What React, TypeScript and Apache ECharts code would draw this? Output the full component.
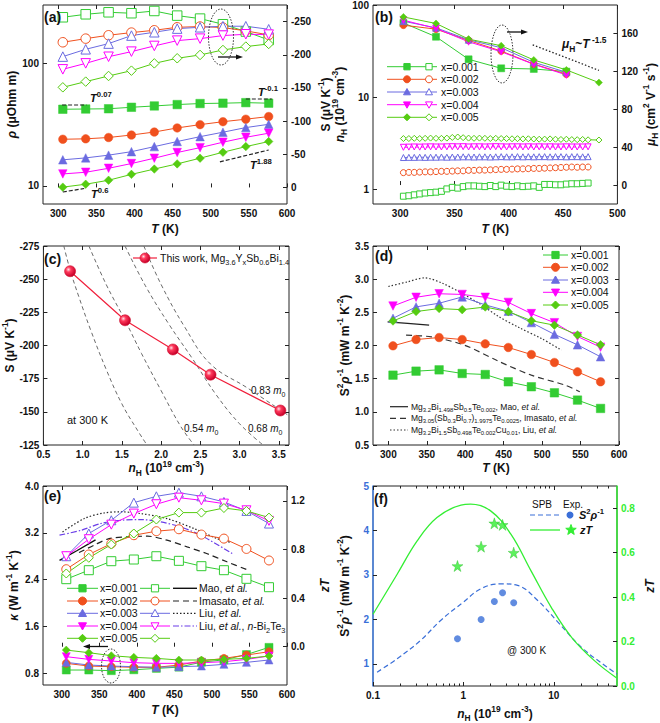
import React, { useEffect, useRef } from 'react';
import * as echarts from 'echarts';

// ---------------- data ----------------
const tempK = [306, 336, 366, 396, 426, 456, 486, 516, 546, 576];

// (a) resistivity (left, log) and Seebeck (right)
const rho001 = [42.2, 42.4, 42.6, 43.8, 44.9, 46.1, 47.0, 47.3, 47.8, 47.3];
const rho002 = [24.0, 24.2, 24.8, 26.0, 27.5, 29.7, 31.6, 33.4, 35.0, 36.8];
const rho003 = [16.3, 16.9, 17.8, 19.0, 20.9, 23.0, 25.2, 27.4, 29.9, 31.8];
const rho004 = [12.5, 12.9, 13.9, 15.2, 16.8, 18.7, 20.5, 22.7, 24.9, 26.9];
const rho005 = [9.75, 10.3, 11.1, 12.4, 13.7, 15.1, 16.8, 18.8, 20.9, 23.0];
const seeb001 = [-256.5, -261, -264, -262.6, -266, -259, -254.5, -246, -235, -222.3];
const seeb002 = [-218.8, -224.3, -229.4, -233.4, -236.9, -241.4, -242.5, -241, -236, -229.9];
const seeb003 = [-197.2, -208.2, -216.8, -228.9, -233.9, -239.4, -241.4, -243, -243, -238.4];
const seeb004 = [-178, -187, -197, -204.7, -213.3, -221.3, -224.3, -228.9, -230.9, -230.4];
const seeb005 = [-150.9, -159.5, -168, -176, -187, -194.7, -199.7, -207.2, -212.3, -216.3];
const guideT007 = [305, 337];
const guideR007 = [45.7, 45.7];
const guideTm01 = [546, 580];
const guideRm01 = [51.2, 51.2];
const guideT188 = [512, 576];
const guideR188 = [15.7, 19.6];
const guideT06 = [306, 334];
const guideR06 = [8.9, 9.5];

// (b) Hall mobility (right) and carrier concentration (left, log)
const tMu = [303, 333, 363, 393, 423, 453];
const tMu5 = [303, 333, 363, 393, 423, 453, 483];
const mu001 = [171, 156.5, 132.7, 123.2, 122.5, 119.7];
const mu002 = [168.7, 164.5, 152.6, 141.4, 127.7, 117.0];
const mu003 = [172.9, 165.9, 153.3, 144.9, 129.5, 119.0];
const mu004 = [174.0, 165.3, 151.2, 140.7, 127.4, 116.2];
const mu005 = [177.4, 170.5, 154.0, 147.0, 132.0, 121.5, 108.1];
const muGuideT = [422, 483];
const muGuide = [148, 121];
const tN = [303, 308, 313, 318, 323, 328, 333, 338, 343, 348, 353, 358, 363, 368, 373, 378, 383, 388, 393, 398, 403, 408, 413, 418, 423, 428, 433, 438, 443, 448, 453, 458, 463, 468, 473];
const tN5 = [303, 308, 313, 318, 323, 328, 333, 338, 343, 348, 353, 358, 363, 368, 373, 378, 383, 388, 393, 398, 403, 408, 413, 418, 423, 428, 433, 438, 443, 448, 453, 458, 463, 468, 473, 483];
const nH001 = [0.85, 0.86, 0.88, 0.9, 0.92, 0.93, 0.94, 0.96, 1.02, 1.06, 1.04, 1.08, 1.1, 1.1, 1.09, 1.08, 1.11, 1.08, 1.12, 1.09, 1.08, 1.1, 1.08, 1.09, 1.1, 1.06, 1.14, 1.14, 1.13, 1.13, 1.15, 1.16, 1.16, 1.17, 1.18];
const nH002 = [1.53, 1.54, 1.54, 1.55, 1.56, 1.56, 1.57, 1.58, 1.58, 1.59, 1.6, 1.6, 1.62, 1.62, 1.63, 1.63, 1.64, 1.65, 1.66, 1.66, 1.67, 1.68, 1.68, 1.69, 1.7, 1.7, 1.71, 1.72, 1.73, 1.74, 1.75, 1.76, 1.75, 1.76, 1.76];
const nH003 = [2.23, 2.24, 2.24, 2.25, 2.24, 2.25, 2.25, 2.26, 2.25, 2.26, 2.26, 2.27, 2.27, 2.26, 2.27, 2.27, 2.26, 2.27, 2.28, 2.27, 2.27, 2.28, 2.27, 2.28, 2.27, 2.28, 2.28, 2.27, 2.28, 2.28, 2.27, 2.28, 2.28, 2.27, 2.28];
const nH004 = [2.88, 2.89, 2.9, 2.89, 2.9, 2.91, 2.9, 2.9, 2.91, 2.92, 2.91, 2.92, 2.9, 2.91, 2.91, 2.9, 2.91, 2.92, 2.91, 2.9, 2.91, 2.91, 2.9, 2.91, 2.9, 2.91, 2.9, 2.91, 2.9, 2.9, 2.91, 2.9, 2.9, 2.9, 2.91];
const nH005 = [3.58, 3.58, 3.6, 3.58, 3.6, 3.62, 3.6, 3.6, 3.62, 3.68, 3.72, 3.66, 3.62, 3.6, 3.62, 3.6, 3.58, 3.6, 3.58, 3.58, 3.56, 3.57, 3.55, 3.56, 3.54, 3.52, 3.53, 3.55, 3.52, 3.5, 3.52, 3.49, 3.48, 3.5, 3.47, 3.45];

// (c) Pisarenko plot at 300 K
const nHc = [0.84, 1.54, 2.15, 2.63, 3.52];
const seebC = [-256, -219, -197, -178, -151];
const spbNL = [0.76, 0.84, 0.95, 1.1, 1.3, 1.5, 1.7, 1.82];
const spbSL = [-275, -257, -237, -212, -182, -156, -136, -125];
const spbN054 = [1.08, 1.3, 1.54, 1.75, 2.0, 2.25, 2.42];
const spbS054 = [-275, -246, -219, -194, -166, -139, -125];
const spbN068 = [1.54, 1.8, 2.1, 2.4, 2.7, 3.0, 3.3];
const spbS068 = [-275, -245, -216, -190, -163, -141, -125];
const spbN083 = [1.78, 2.0, 2.3, 2.63, 3.1, 3.63];
const spbS083 = [-275, -246, -214, -186, -168, -147];

// (d) power factor
const pf001 = [1.553, 1.613, 1.633, 1.578, 1.563, 1.453, 1.378, 1.287, 1.177, 1.051];
const pf002 = [1.995, 2.09, 2.12, 2.09, 2.025, 1.97, 1.864, 1.744, 1.603, 1.453];
const pf003 = [2.41, 2.582, 2.637, 2.732, 2.612, 2.517, 2.346, 2.168, 2.01, 1.83];
const pf004 = [2.595, 2.727, 2.78, 2.77, 2.727, 2.65, 2.481, 2.344, 2.136, 1.975];
const pf005 = [2.369, 2.512, 2.557, 2.54, 2.58, 2.51, 2.374, 2.306, 2.16, 2.01];
const maoT = [299, 325, 353];
const maoPF = [2.356, 2.335, 2.306];
const imaT = [323, 356, 399, 443, 486, 530, 549];
const imaPF = [2.155, 2.13, 2.005, 1.764, 1.553, 1.402, 1.302];
const liuT = [300, 325, 347, 370, 395, 420, 443, 470, 500, 525];
const liuPF = [2.89, 2.96, 3.02, 2.94, 2.79, 2.62, 2.44, 2.27, 2.1, 1.93];

// (e) thermal conductivity (left) and zT (right)
const kap001 = [0.856, 0.856, 0.845, 0.86, 0.884, 0.905, 0.99, 1.03, 1.12, 1.243];
const kap002 = [0.97, 0.924, 0.913, 0.902, 0.902, 0.941, 1.01, 1.055, 1.112, 1.169];
const kap003 = [0.987, 0.941, 0.924, 0.913, 0.902, 0.913, 0.924, 0.953, 0.987, 1.027];
const kap004 = [1.084, 1.038, 1.01, 0.981, 0.97, 0.97, 0.981, 0.998, 1.038, 1.095];
const kap005 = [1.197, 1.152, 1.101, 1.072, 1.055, 1.027, 1.027, 1.038, 1.055, 1.095];
const zt001 = [0.556, 0.63, 0.704, 0.718, 0.745, 0.707, 0.663, 0.63, 0.559, 0.49];
const zt002 = [0.638, 0.759, 0.849, 0.918, 0.951, 0.967, 0.923, 0.89, 0.805, 0.71];
const zt003 = [0.745, 0.932, 1.041, 1.186, 1.238, 1.268, 1.238, 1.192, 1.118, 1.014];
const zt004 = [0.745, 0.885, 1.005, 1.096, 1.173, 1.227, 1.205, 1.178, 1.123, 1.036];
const zt005 = [0.603, 0.732, 0.841, 0.932, 1.047, 1.104, 1.104, 1.142, 1.118, 1.063];
const maoZtT = [297, 320, 345];
const maoZt = [0.71, 0.79, 0.88];
const imaZtT = [323, 343, 363, 387, 414, 440, 467, 493, 520, 546];
const imaZt = [0.775, 0.836, 0.89, 0.904, 0.91, 0.877, 0.822, 0.767, 0.699, 0.636];
const liuZtT = [301, 330, 356, 379, 405, 440, 476, 507, 524];
const liuZt = [0.945, 1.055, 1.101, 1.11, 1.096, 1.055, 0.973, 0.89, 0.86];
const liuBtT = [297, 326, 352, 379, 405, 432, 458, 485, 527];
const liuBtZt = [0.918, 0.959, 1.014, 1.041, 1.047, 1.027, 0.986, 0.918, 0.767];

// (f) SPB model vs experiment at 300 K
const nHf = [0.86, 1.57, 2.2, 2.71, 3.6];
const pfExp = [1.563, 1.998, 2.403, 2.598, 2.373];
const ztExp = [0.54, 0.627, 0.732, 0.725, 0.6];
const spbPfN = [0.111, 0.185, 0.336, 0.56, 1.0, 1.56, 2.6, 3.98, 6.64, 11.1, 20.1, 36.6, 50];
const spbPf = [0.812, 1.113, 1.525, 1.975, 2.388, 2.688, 2.8, 2.763, 2.425, 1.938, 1.375, 0.962, 0.77];
const spbZtN = [0.1, 0.185, 0.308, 0.51, 0.94, 1.2, 2.0, 3.35, 5.6, 9.4, 15.8, 28.3, 50];
const spbZt = [0.323, 0.503, 0.653, 0.758, 0.814, 0.818, 0.788, 0.683, 0.518, 0.353, 0.218, 0.113, 0.035];

const xLabels = ['x=0.001', 'x=0.002', 'x=0.003', 'x=0.004', 'x=0.005'];

// ---------------- styling ----------------
const FONT = '"Liberation Sans", Arial, Helvetica, sans-serif';
const COLORS = ['#33cc33', '#f0501e', '#6b6be0', '#ff00ff', '#55cc11'];
const KINDS = ['sq', 'ci', 'tu', 'td', 'di'];
const STAR = 'path://M50,0L61.8,35.1L98.5,35.1L68.8,56.8L80.2,91.6L50,70.1L19.8,91.6L31.2,56.8L1.5,35.1L38.2,35.1Z';

function rich(size: number, weight: any = 'normal', color = '#111') {
  const s = Math.round(size * 0.7 * 10) / 10;
  const lh = Math.round(size * 1.45);
  const b: any = { fontFamily: FONT, fontWeight: weight, color, fill: color, lineHeight: lh };
  return {
    n: { ...b, fontSize: size },
    i: { ...b, fontSize: size, fontStyle: 'italic' },
    sup: { ...b, fontSize: s, verticalAlign: 'top' },
    sub: { ...b, fontSize: s, verticalAlign: 'bottom' },
  };
}

function esym(kind: string) {
  const m: any = { sq: 'rect', ci: 'circle', tu: 'triangle', td: 'triangle', di: 'diamond' };
  return { symbol: m[kind], rotate: kind === 'td' ? 180 : 0 };
}

function buildOption() {
  const grids: any[] = [];
  const xAxes: any[] = [];
  const yAxes: any[] = [];
  const series: any[] = [];
  const els: any[] = [];

  const tick = (vals: any, len = 4) => ({ show: true, inside: true, length: len, lineStyle: { color: '#222', width: 1 }, customValues: vals });
  const lab = (vals: any, fmt?: any, color = '#111') => {
    const o: any = { show: true, fontSize: 10, fontWeight: 'bold', fontFamily: FONT, color, margin: 4, customValues: vals };
    if (fmt) o.formatter = fmt;
    return o;
  };
  const nameStyle = (color = '#111') => ({ fontFamily: FONT, fontSize: 12, fontWeight: 'bold', color, rich: rich(12, 'bold', color) });

  function addGrid(left: number, top: number, width: number, height: number) {
    grids.push({ left, top, width, height, show: true, borderColor: '#222', borderWidth: 1 });
    return grids.length - 1;
  }
  function addX(g: number, o: any) {
    const c: any = { gridIndex: g, type: o.log ? 'log' : 'value', min: o.min, max: o.max, splitLine: { show: false }, axisLine: { show: false } };
    if (o.log) c.logBase = 10;
    xAxes.push({ ...c, position: 'bottom', axisTick: tick(o.ticks), axisLabel: lab(o.ticks, o.fmt), name: o.name, nameLocation: 'middle', nameGap: o.gap, nameTextStyle: nameStyle() });
    const idx = xAxes.length - 1;
    xAxes.push({ ...c, position: 'top', axisTick: tick(o.ticks), axisLabel: { show: false } });
    if (o.minor) {
      xAxes.push({ ...c, position: 'bottom', axisTick: tick(o.minor, 2.5), axisLabel: { show: false } });
      xAxes.push({ ...c, position: 'top', axisTick: tick(o.minor, 2.5), axisLabel: { show: false } });
    }
    return idx;
  }
  function addY(g: number, o: any) {
    const c: any = { gridIndex: g, type: o.log ? 'log' : 'value', min: o.min, max: o.max, inverse: !!o.inverse, splitLine: { show: false } };
    if (o.log) c.logBase = 10;
    const col = o.color || '#111';
    yAxes.push({
      ...c, position: o.pos || 'left',
      axisLine: o.lineColor ? { show: true, lineStyle: { color: o.lineColor, width: 1.5 } } : { show: false },
      axisTick: tick(o.ticks), axisLabel: lab(o.ticks, o.fmt, col),
      name: o.name, nameLocation: 'middle', nameGap: o.gap, nameTextStyle: nameStyle(),
    });
    const idx = yAxes.length - 1;
    if (o.mirror) {
      yAxes.push({ ...c, position: 'right', axisLine: { show: false }, axisTick: tick(o.ticks), axisLabel: { show: false } });
    }
    return idx;
  }
  function addLine(xi: number, yi: number, xs: number[], ys: number[], o: any) {
    series.push({
      type: 'line', xAxisIndex: xi, yAxisIndex: yi,
      data: xs.map((x, i) => [x, ys[i]]),
      symbol: o.symbol || 'none', symbolSize: o.size || 8, symbolRotate: o.rotate || 0,
      smooth: o.smooth || false, silent: true,
      lineStyle: { color: o.lineColor || o.color, width: o.width || 1, type: o.dash || 'solid' },
      itemStyle: { color: o.fill || o.color, borderColor: o.color, borderWidth: o.bw == null ? 1 : o.bw },
      z: o.z || 2,
    });
  }
  function addPts(xi: number, yi: number, xs: number[], ys: number[], kind: number, filled: boolean, size: number, lineW = 1) {
    const s = esym(KINDS[kind]);
    addLine(xi, yi, xs, ys, {
      color: COLORS[kind], fill: filled ? COLORS[kind] : '#ffffff', symbol: s.symbol, rotate: s.rotate,
      size, bw: filled ? 0.5 : 1, width: lineW, z: filled ? 3 : 4,
    });
  }

  // ---- graphic helpers ----
  const gLine = (x1: number, y1: number, x2: number, y2: number, color: string, width = 1, dash?: number[]) =>
    ({ type: 'line', z: 50, shape: { x1, y1, x2, y2 }, style: { stroke: color, lineWidth: width, lineDash: dash } });
  const gText = (x: number, y: number, text: string, size: number, weight: any = 'normal', color = '#111') =>
    ({ type: 'text', z: 50, x, y, style: { text, fontSize: size, fontFamily: FONT, fontWeight: weight, fill: color, align: 'left', verticalAlign: 'middle', rich: rich(size, weight, color) } });
  const starPts = (cx: number, cy: number, R: number) => {
    const pts: number[][] = [];
    for (let k = 0; k < 10; k++) {
      const r = k % 2 === 0 ? R : R * 0.42;
      const a = -Math.PI / 2 + (k * Math.PI) / 5;
      pts.push([cx + r * Math.cos(a), cy + r * Math.sin(a)]);
    }
    return pts;
  };
  const gSym = (kind: string, filled: boolean, color: string, cx: number, cy: number, s: number) => {
    const style = { fill: filled ? color : '#fff', stroke: color, lineWidth: 1 };
    const h = s / 2;
    if (kind === 'sq') return { type: 'rect', z: 51, shape: { x: cx - h * 0.9, y: cy - h * 0.9, width: s * 0.9, height: s * 0.9 }, style };
    if (kind === 'ci') return { type: 'circle', z: 51, shape: { cx, cy, r: h }, style };
    if (kind === 'tu') return { type: 'polygon', z: 51, shape: { points: [[cx, cy - h], [cx + h, cy + h * 0.8], [cx - h, cy + h * 0.8]] }, style };
    if (kind === 'td') return { type: 'polygon', z: 51, shape: { points: [[cx, cy + h], [cx + h, cy - h * 0.8], [cx - h, cy - h * 0.8]] }, style };
    if (kind === 'st') return { type: 'polygon', z: 51, shape: { points: starPts(cx, cy, h) }, style };
    return { type: 'polygon', z: 51, shape: { points: [[cx, cy - h], [cx + h, cy], [cx, cy + h], [cx - h, cy]] }, style };
  };
  const gEllipse = (cx: number, cy: number, rx: number, ry: number) =>
    ({ type: 'ellipse', z: 50, shape: { cx, cy, rx, ry }, style: { fill: 'transparent', stroke: '#333', lineWidth: 1, lineDash: [1.5, 1.5] } });
  const gArrow = (x1: number, x2: number, y: number) => {
    const dir = x2 > x1 ? 1 : -1;
    return [
      gLine(x1, y, x2 - dir * 5, y, '#111', 1.3),
      { type: 'polygon', z: 50, shape: { points: [[x2, y], [x2 - dir * 7, y - 2.6], [x2 - dir * 7, y + 2.6]] }, style: { fill: '#111' } },
    ];
  };

  const tTicks = [300, 350, 400, 450, 500, 550, 600];
  const TK = '{i|T}{n| (K)}';
  const NH = '{i|n}{sub|H}{n| (10}{sup|19}{n| cm}{sup|-3}{n|)}';
  const PF = '{n|S}{sup|2}{i|ρ}{sup|-1}{n| (mW m}{sup|-1}{n| K}{sup|-2}{n|)}';
  const SEEB = '{n|S (μV K}{sup|-1}{n|)}';

  // ================= (a) =================
  const gA = addGrid(43, 5, 244, 199);
  const xA = addX(gA, { min: 280, max: 600, ticks: tTicks, name: TK, gap: 16 });
  const yAL = addY(gA, { log: true, min: 7.1, max: 300, ticks: [10, 100], name: '{i|ρ}{n| (μOhm m)}', gap: 22 });
  const yAR = addY(gA, { pos: 'right', inverse: true, min: -275, max: 25, ticks: [-250, -200, -150, -100, -50, 0], name: SEEB, gap: 30 });
  const rhos = [rho001, rho002, rho003, rho004, rho005];
  const seebs = [seeb001, seeb002, seeb003, seeb004, seeb005];
  for (let k = 0; k < 5; k++) {
    addPts(xA, yAL, tempK, rhos[k], k, true, 8.5);
    addPts(xA, yAR, tempK, seebs[k], k, false, 9.5);
  }
  const gd = { color: '#222', dash: [4, 2], width: 1.2, z: 5 };
  addLine(xA, yAL, guideT007, guideR007, gd);
  addLine(xA, yAL, guideTm01, guideRm01, gd);
  addLine(xA, yAL, guideT188, guideR188, gd);
  addLine(xA, yAL, guideT06, guideR06, gd);
  els.push(gText(44, 17, '{n|(a)}', 14, 'bold'));
  els.push(gText(90, 98, '{i|T}{sup|0.07}', 11, 'bold'));
  els.push(gText(258, 92, '{i|T}{sup|-0.1}', 11, 'bold'));
  els.push(gText(250, 165, '{i|T}{sup|1.88}', 11, 'bold'));
  els.push(gText(91, 194, '{i|T}{sup|0.6}', 11, 'bold'));
  els.push(gEllipse(221, 37, 12.5, 28));
  els.push(...gArrow(218, 243, 57));

  // ================= (b) =================
  const gB = addGrid(373, 5, 246, 199);
  const xB = addX(gB, { min: 275, max: 500, ticks: [300, 350, 400, 450, 500], name: TK, gap: 16 });
  const yBL = addY(gB, { log: true, min: 0.7, max: 100, ticks: [1, 10, 100], name: NH, gap: 20 });
  const yBR = addY(gB, { pos: 'right', min: -20, max: 190, ticks: [0, 40, 80, 120, 160], name: '{i|μ}{sub|H}{n| (cm}{sup|2}{n| V}{sup|-1}{n| s}{sup|-1}{n|)}', gap: 23 });
  const mus = [mu001, mu002, mu003, mu004, mu005];
  const nHs = [nH001, nH002, nH003, nH004, nH005];
  for (let k = 0; k < 5; k++) {
    addPts(xB, yBL, k === 4 ? tN5 : tN, nHs[k], k, false, 6);
  }
  for (let k = 0; k < 5; k++) {
    addPts(xB, yBR, k === 4 ? tMu5 : tMu, mus[k], k, true, 7);
  }
  addLine(xB, yBR, muGuideT, muGuide, { color: '#222', dash: [1.5, 2], width: 1.3, z: 5 });
  els.push(gText(375, 17, '{n|(b)}', 14, 'bold'));
  els.push(gText(562, 44, '{i|μ}{sub|H}{n|~}{i|T}{sup| -1.5}', 12, 'bold'));
  els.push(gEllipse(502, 54, 11, 29));
  els.push(...gArrow(507, 528, 32));
  const legBY = [66.7, 79.3, 92, 104.7, 117.3];
  for (let k = 0; k < 5; k++) {
    const y = legBY[k];
    els.push(gLine(387, y, 437, y, COLORS[k], 1));
    els.push(gSym(KINDS[k], true, COLORS[k], 407, y, 7));
    els.push(gSym(KINDS[k], false, COLORS[k], 429, y, 7));
    els.push(gText(441, y, '{n|' + xLabels[k] + '}', 10.5));
  }

  // ================= (c) =================
  const gC = addGrid(43, 246, 246, 199);
  const xC = addX(gC, { min: 0.5, max: 3.63, ticks: [0.5, 1.0, 1.5, 2.0, 2.5, 3.0, 3.5], fmt: (v: number) => v.toFixed(1), name: NH, gap: 14 });
  const yC = addY(gC, { inverse: true, min: -275, max: -125, ticks: [-275, -250, -225, -200, -175, -150, -125], name: SEEB, gap: 22, mirror: true });
  const dashGray = { color: '#6a6a6a', dash: [4, 3], width: 1, smooth: 0.4, z: 2 };
  addLine(xC, yC, spbNL, spbSL, dashGray);
  addLine(xC, yC, spbN054, spbS054, dashGray);
  addLine(xC, yC, spbN068, spbS068, dashGray);
  addLine(xC, yC, spbN083, spbS083, dashGray);
  const ball = new echarts.graphic.RadialGradient(0.35, 0.35, 0.65, [
    { offset: 0, color: '#ffe0e6' },
    { offset: 0.35, color: '#ff3a5c' },
    { offset: 1, color: '#c8002a' },
  ]);
  series.push({
    type: 'line', xAxisIndex: xC, yAxisIndex: yC, data: nHc.map((x, i) => [x, seebC[i]]),
    symbol: 'circle', symbolSize: 11, silent: true, z: 6,
    lineStyle: { color: '#f0203c', width: 1.2 },
    itemStyle: { color: ball, borderColor: '#d01030', borderWidth: 0.6 },
  });
  els.push(gText(44, 259, '{n|(c)}', 14, 'bold'));
  els.push(gLine(133, 258, 157, 258, '#f0203c', 1.2));
  els.push({ type: 'circle', z: 51, shape: { cx: 145, cy: 258, r: 5 }, style: { fill: ball, stroke: '#d01030', lineWidth: 0.6 } });
  els.push(gText(160, 258, '{n|This work, Mg}{sub|3.6}{n|Y}{sub|x}{n|Sb}{sub|0.6}{n|Bi}{sub|1.4}', 10.5));
  els.push(gText(67, 420, '{n|at 300 K}', 11));
  els.push(gText(251, 390, '{n|0.83 }{i|m}{sub|0}', 10));
  els.push(gText(248, 428, '{n|0.68 }{i|m}{sub|0}', 10));
  els.push(gText(184, 428, '{n|0.54 }{i|m}{sub|0}', 10));

  // ================= (d) =================
  const gD = addGrid(373, 246, 246, 199);
  const xD = addX(gD, { min: 280, max: 600, ticks: tTicks, name: TK, gap: 14 });
  const yD = addY(gD, { min: 0.5, max: 3.5, ticks: [0.5, 1.0, 1.5, 2.0, 2.5, 3.0, 3.5], fmt: (v: number) => v.toFixed(1), name: PF, gap: 20, mirror: true });
  addLine(xD, yD, maoT, maoPF, { color: '#222', width: 1.2, z: 2 });
  addLine(xD, yD, imaT, imaPF, { color: '#333', dash: [6, 4], width: 1.2, smooth: 0.3, z: 2 });
  addLine(xD, yD, liuT, liuPF, { color: '#333', dash: [1.5, 2], width: 1.2, smooth: 0.3, z: 2 });
  const pfs = [pf001, pf002, pf003, pf004, pf005];
  for (let k = 0; k < 5; k++) addPts(xD, yD, tempK, pfs[k], k, true, 8.5);
  els.push(gText(375, 256, '{n|(d)}', 14, 'bold'));
  const legDY = [255, 267.3, 280, 292.3, 305];
  for (let k = 0; k < 5; k++) {
    const y = legDY[k];
    els.push(gLine(543, y, 568, y, COLORS[k], 1));
    els.push(gSym(KINDS[k], true, COLORS[k], 555.5, y, 8));
    els.push(gText(571, y, '{n|' + xLabels[k] + '}', 10.5));
  }
  els.push(gLine(390, 406.7, 408, 406.7, '#222', 1.2));
  els.push(gLine(390, 418.3, 408, 418.3, '#333', 1.2, [6, 4]));
  els.push(gLine(390, 430, 408, 430, '#333', 1.2, [1.5, 2]));
  els.push(gText(411, 406.7, '{n|Mg}{sub|3.2}{n|Bi}{sub|1.498}{n|Sb}{sub|0.5}{n|Te}{sub|0.002}{n|, Mao, }{i|et al.}', 8.5));
  els.push(gText(411, 418.3, '{n|Mg}{sub|3.05}{n|(Sb}{sub|0.3}{n|Bi}{sub|0.7}{n|)}{sub|1.9975}{n|Te}{sub|0.0025}{n|, Imasato, }{i|et al.}', 8.5));
  els.push(gText(411, 430, '{n|Mg}{sub|3.2}{n|Bi}{sub|1.5}{n|Sb}{sub|0.498}{n|Te}{sub|0.002}{n|Cu}{sub|0.01}{n|, Liu, }{i|et al.}', 8.5));

  // ================= (e) =================
  const gE = addGrid(43, 486, 244, 199);
  const xE = addX(gE, { min: 275, max: 600, ticks: tTicks, name: TK, gap: 16 });
  const yEL = addY(gE, { min: 0.6, max: 4.0, ticks: [0.8, 1.6, 2.4, 3.2, 4.0], fmt: (v: number) => v.toFixed(1), name: '{i|κ}{n| (W m}{sup|-1}{n| K}{sup|-1}{n|)}', gap: 21 });
  const yER = addY(gE, { pos: 'right', min: -0.315, max: 1.323, ticks: [0, 0.4, 0.8, 1.2], fmt: (v: number) => v.toFixed(1), name: '{i|zT}', gap: 29 });
  const PURPLE = '#6a3de8';
  addLine(xE, yER, maoZtT, maoZt, { color: '#111', width: 1.4, z: 2 });
  addLine(xE, yER, imaZtT, imaZt, { color: '#222', dash: [6, 4], width: 1.2, smooth: 0.3, z: 2 });
  addLine(xE, yER, liuZtT, liuZt, { color: '#222', dash: [1.5, 2], width: 1.2, smooth: 0.3, z: 2 });
  addLine(xE, yER, liuBtT, liuBtZt, { color: PURPLE, dash: [6, 2, 1.5, 2], width: 1.2, smooth: 0.3, z: 2 });
  const kaps = [kap001, kap002, kap003, kap004, kap005];
  const zts = [zt001, zt002, zt003, zt004, zt005];
  for (let k = 0; k < 5; k++) {
    addPts(xE, yEL, tempK, kaps[k], k, true, 8);
    addPts(xE, yER, tempK, zts[k], k, false, 9);
  }
  els.push(gText(44, 496, '{n|(e)}', 14, 'bold'));
  els.push(gEllipse(111, 666, 9.5, 17));
  els.push(...gArrow(108, 83, 646.5));
  const legEY = [588.3, 601, 613.3, 626, 638.3];
  const refText = ['{n|Mao, }{i|et al.}', '{n|Imasato, }{i|et al.}', '{n|Liu, }{i|et al.}', '{n|Liu, }{i|et al.}{n|, }{i|n}{n|-Bi}{sub|2}{n|Te}{sub|3}'];
  const refDash: any[] = [undefined, [6, 4], [1.5, 2], [6, 2, 1.5, 2]];
  const refCol = ['#111', '#222', '#222', PURPLE];
  for (let k = 0; k < 5; k++) {
    const y = legEY[k];
    els.push(gLine(67, y, 98, y, COLORS[k], 1));
    els.push(gSym(KINDS[k], true, COLORS[k], 82.5, y, 8));
    els.push(gText(100, y, '{n|' + xLabels[k] + '}', 10.5));
    els.push(gLine(140, y, 170, y, COLORS[k], 1));
    els.push(gSym(KINDS[k], false, COLORS[k], 155, y, 8));
    if (k < 4) {
      els.push(gLine(173, y, 197, y, refCol[k], k === 0 ? 1.4 : 1.2, refDash[k]));
      els.push(gText(199, y, refText[k], 10.5));
    }
  }

  // ================= (f) =================
  const BLUE = '#3a6fd8';
  const LGREEN = '#33ee33';
  const gF = addGrid(373, 486, 244, 200);
  const xF = addX(gF, { log: true, min: 0.1, max: 50, ticks: [0.1, 1, 10], minor: [0.2, 0.3, 0.4, 0.5, 0.6, 0.7, 0.8, 0.9, 2, 3, 4, 5, 6, 7, 8, 9, 20, 30, 40], name: NH, gap: 19 });
  const yFL = addY(gF, { min: 0.5, max: 5, ticks: [1, 2, 3, 4, 5], name: PF, gap: 20, color: BLUE, lineColor: '#4a86e8' });
  const yFR = addY(gF, { pos: 'right', min: 0, max: 0.9, ticks: [0, 0.2, 0.4, 0.6, 0.8], fmt: (v: number) => v.toFixed(1), name: '{i|zT}', gap: 24, color: LGREEN, lineColor: LGREEN });
  addLine(xF, yFL, spbPfN, spbPf, { color: BLUE, dash: [5, 3], width: 1.2, smooth: 0.4, z: 2 });
  addLine(xF, yFR, spbZtN, spbZt, { color: LGREEN, width: 1.3, smooth: 0.4, z: 2 });
  series.push({
    type: 'scatter', xAxisIndex: xF, yAxisIndex: yFL, data: nHf.map((x, i) => [x, pfExp[i]]),
    symbol: 'circle', symbolSize: 7, silent: true, itemStyle: { color: BLUE }, z: 5,
  });
  series.push({
    type: 'scatter', xAxisIndex: xF, yAxisIndex: yFR, data: nHf.map((x, i) => [x, ztExp[i]]),
    symbol: STAR, symbolSize: 11, silent: true, itemStyle: { color: LGREEN, borderColor: '#22bb22', borderWidth: 0.5 }, z: 5,
  });
  els.push(gText(374, 499, '{n|(f)}', 14, 'bold'));
  els.push(gText(532, 504, '{n|SPB}', 10));
  els.push(gText(563, 504, '{n|Exp.}', 10));
  els.push(gLine(530, 515, 560, 515, BLUE, 1.2, [5, 3]));
  els.push({ type: 'circle', z: 51, shape: { cx: 570, cy: 515, r: 3.5 }, style: { fill: BLUE } });
  els.push(gText(579, 515, '{i|S}{sup|2}{i|ρ}{sup|-1}', 11, 'bold'));
  els.push(gLine(530, 530, 560, 530, LGREEN, 1.3));
  els.push(gSym('st', true, LGREEN, 571, 530, 11));
  els.push(gText(580, 530, '{i|zT}', 11, 'bold'));
  els.push(gText(507, 650, '{n|@ 300 K}', 10));

  return {
    animation: false,
    backgroundColor: '#ffffff',
    textStyle: { fontFamily: FONT },
    grid: grids,
    xAxis: xAxes,
    yAxis: yAxes,
    series,
    graphic: { elements: els },
  };
}

export default function App() {
  const ref = useRef<HTMLDivElement>(null);
  useEffect(() => {
    if (!ref.current) return;
    const chart = echarts.init(ref.current, undefined, { renderer: 'svg' });
    chart.setOption(buildOption() as any);
    return () => chart.dispose();
  }, []);
  return <div ref={ref} style={{ position: 'fixed', left: 0, top: 0, width: 660, height: 723, background: '#fff' }} />;
}
